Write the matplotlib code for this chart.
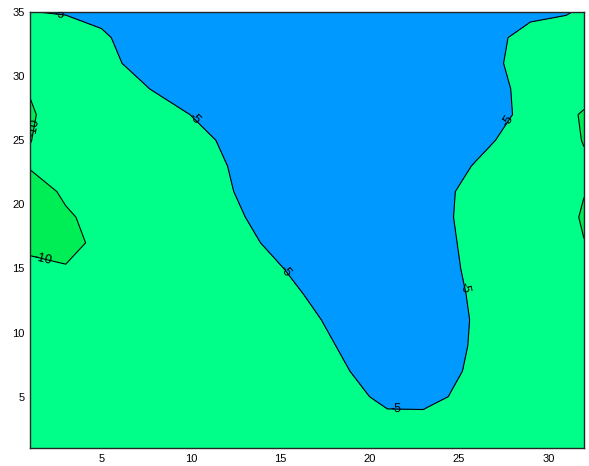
import numpy as np
import matplotlib
matplotlib.use("Agg")
import matplotlib.pyplot as plt
from matplotlib.colors import ListedColormap

plt.rcParams['font.family'] = ['Liberation Sans', 'DejaVu Sans']
plt.rcParams['axes.unicode_minus'] = False
plt.rcParams['contour.negative_linestyle'] = 'solid'

# grid nodes (2-unit spacing)
x = [1, 3, 5, 7, 9, 11, 13, 15, 17, 19, 21, 23, 25, 27, 29, 31, 32]
y = [1, 3, 5, 7, 9, 11, 13, 15, 17, 19, 21, 23, 25, 27, 29, 31, 33, 35]

z = [
    [-9, -9, -9, -9, -9, -9, -9, -9, -9, -9, -8, -8, -9, -9, -9, -9, -9],
    [-9, -9, -9, -9, -9, -9, -9, -9, -8.5, -7.3, -6.1, -6.4, -7.1, -8.9, -9, -9, -9],
    [-9, -9, -9, -9, -9, -9, -9, -9, -8, -6, -4, -3.6, -5.6, -7.6, -9, -9, -9],
    [-9, -9, -9, -9, -9, -9, -9, -8.9, -6.9, -4.9, -2.9, -2.8, -4.8, -6.8, -8.8, -9, -9],
    [-9, -9, -9, -9, -9, -9, -9, -8.1, -6.1, -4.1, -2.1, -2.5, -4.5, -6.5, -8.5, -9, -9],
    [-9, -9, -9, -9, -9, -9, -9, -7.3, -5.3, -3.3, -1.3, -2.4, -4.4, -6.4, -8.4, -9, -9],
    [-9, -9, -9, -9, -9, -9, -8.3, -6.3, -4.3, -2.3, -1, -2.6, -4.6, -6.6, -8.6, -9, -9],
    [-8, -9.8, -9, -9, -9, -9, -7.2, -5.2, -3.2, -1.2, -1, -2.9, -4.9, -6.9, -8.9, -9, -9],
    [-12, -11, -9.2, -9, -9, -7.9, -5.9, -3.9, -1.9, -1, -1, -3.1, -5.1, -7.1, -9, -9, -9.9],
    [-12, -10.4, -9, -9, -9, -7.05, -5.05, -3.05, -1.05, -1, -1, -3.3, -5.3, -7.3, -9, -8.8, -10.5],
    [-11.5, -9.5, -9, -9, -8.4, -6.4, -4.4, -2.4, -1, -1, -1, -3.2, -5.2, -7.2, -9, -9, -9.85],
    [-9.74, -9, -9, -9, -8.05, -6.05, -4.05, -2.05, -1, -1, -1, -2.3, -4.3, -6.3, -8.3, -9, -9.5],
    [-10.05, -9, -9, -9, -7.4, -5.4, -3.4, -1.4, -1, -1, -1, -1, -2.95, -4.95, -6.95, -9, -10.17],
    [-10.3, -8.6, -9, -7.95, -5.95, -3.95, -1.95, -1, -1, -1, -1, -1, -2, -4, -6, -9, -10.5],
    [-9.84, -9, -7.7, -5.7, -3.7, -1.7, -1, -1, -1, -1, -1, -1, -2.1, -4.1, -6.1, -8.1, -8],
    [-9, -8.15, -6.15, -4.15, -2.15, -1, -1, -1, -1, -1, -1, -1, -2.5, -4.5, -6.5, -8.5, -9],
    [-7, -7.55, -5.55, -3.55, -1.55, -1, -1, -1, -1, -1, -1, -1, -2.25, -4.25, -6.25, -7, -7.5],
    [-5.1, -4.65, -4, -3, -1.5, -1, -1, -1, -1, -1, -1, -1, -1, -3.2, -4.2, -4.7, -5.6],
]

levels = [-13, -10, -5, 0]
line_levels = [-10, -5]
fill_colors = ['#00EE55', '#00FF88', '#0099FF']

label_spots = [(2.6, 34.6), (10.0, 26.4), (15.2, 14.7), (21.5, 4.15),
               (25.4, 13.5), (27.9, 26.4), (1.3, 26.0), (1.7, 15.7)]

fig = plt.figure(figsize=(5.89, 4.66), dpi=100)
ax = fig.add_axes([30 / 589, 18 / 466, 554 / 589, 436 / 466])

X, Y = np.meshgrid(x, y)
Z = np.array(z)
ax.contourf(X, Y, Z, levels=levels, cmap=ListedColormap(fill_colors))
cs = ax.contour(X, Y, Z, levels=line_levels, colors='k', linewidths=0.8,
                linestyles='solid')
ax.clabel(cs, fmt='%d', inline=False, fontsize=9, colors='k', manual=label_spots)

ax.set_xlim(1, 32)
ax.set_ylim(1, 35)
ax.set_xticks([5, 10, 15, 20, 25, 30])
ax.set_yticks([5, 10, 15, 20, 25, 30, 35])
ax.tick_params(length=0, labelsize=8, pad=4)
for s in ax.spines.values():
    s.set_color('#262626')
    s.set_linewidth(1.0)

fig.savefig('out.png', dpi=100)
